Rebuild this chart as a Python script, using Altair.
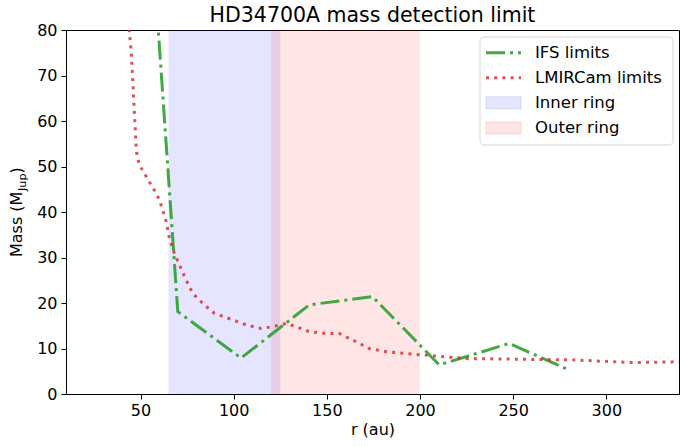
import altair as alt
import pandas as pd

FONT = "DejaVu Sans"

# IFS detection limits (r in au, mass in M_Jup)
ifs_r = [35.0, 70.0, 104.0, 140.6, 174.5, 210.3, 247.8, 280.0]
ifs_m = [225.0, 18.1, 7.9, 19.6, 21.4, 6.4, 11.1, 5.3]

# LMIRCam detection limits
lmir_r = [43.5, 45.0, 45.9, 46.8, 47.7, 48.2, 49.5, 53.9, 58.4, 60.2, 63.8, 65.5,
          68.2, 73.6, 78.0, 83.4, 89.7, 99.5, 106.6, 114.7, 120.9, 128.1, 133.4,
          140.6, 149.5, 156.7, 165.6, 172.7, 181.7, 192.4, 206.7, 224.6, 260.3,
          281.7, 313.9, 340.0]
lmir_m = [82.0, 75.2, 68.3, 61.0, 54.0, 52.2, 50.3, 47.2, 44.1, 42.6, 37.9, 34.2,
          30.9, 25.8, 22.1, 19.9, 17.7, 16.3, 15.2, 14.4, 14.8, 15.5, 14.8,
          13.7, 13.3, 13.3, 11.5, 10.0, 9.3, 8.9, 8.4, 7.8, 7.6,
          7.5, 6.9, 7.1]

# Rings
ring_names = ["Inner ring", "Outer ring"]
ring_start = [65.0, 120.0]
ring_end = [125.0, 200.0]
ring_colors = ["#0000ff", "#ff0000"]

x_ticks = [50, 100, 150, 200, 250, 300]
y_ticks = [0, 10, 20, 30, 40, 50, 60, 70, 80]
x_domain = [10, 339]
y_domain = [0, 80]

W, H = 613, 364

ifs_df = pd.DataFrame({"r": ifs_r, "m": ifs_m})
lmir_df = pd.DataFrame({"r": lmir_r, "m": lmir_m})

xs = alt.Scale(domain=x_domain, nice=False, zero=False)
ys = alt.Scale(domain=y_domain, nice=False, zero=False)

x_axis = alt.Axis(values=x_ticks, title="r (au)", grid=False, labelFontSize=16,
                  titleFontSize=16, labelFont=FONT, titleFont=FONT,
                  titleFontWeight="normal", labelColor="black", titleColor="black",
                  tickColor="black", domainColor="black", tickSize=5,
                  labelPadding=3, titlePadding=3, labelFlush=False)
y_axis = alt.Axis(values=y_ticks, title=None, grid=False, labelFontSize=16,
                  labelFont=FONT, labelColor="black", tickColor="black",
                  domainColor="black", tickSize=5, labelPadding=4, labelFlush=False)

bands = []
for name, s, e, c in zip(ring_names, ring_start, ring_end, ring_colors):
    bdf = pd.DataFrame({"name": [name], "start": [s], "end": [e]})
    bands.append(
        alt.Chart(bdf).mark_rect(color=c, opacity=0.1).encode(
            x=alt.X("start:Q", scale=xs, axis=x_axis),
            x2="end:Q",
            y=alt.value(0),
            y2=alt.value(H),
        )
    )

ifs_line = alt.Chart(ifs_df).mark_line(
    color="#2ca02c", strokeWidth=3, strokeDash=[19, 5, 3, 5], clip=True, opacity=0.9
).encode(
    x=alt.X("r:Q", scale=xs, axis=x_axis),
    y=alt.Y("m:Q", scale=ys, axis=y_axis),
)

lmir_line = alt.Chart(lmir_df).mark_line(
    color="#d62728", strokeWidth=3, strokeDash=[3, 5.2], strokeCap="butt",
    clip=True, opacity=0.8
).encode(
    x=alt.X("r:Q", scale=xs, axis=x_axis),
    y=alt.Y("m:Q", scale=ys, axis=y_axis),
)

# Manual legend (decoration)
one = pd.DataFrame({"k": [0]})
legend_labels = ["IFS limits", "LMIRCam limits", "Inner ring", "Outer ring"]
leg_y = [22.7, 47.7, 72.8, 98.0]
leg_layers = [
    alt.Chart(one).mark_rect(fill="white", opacity=0.8, stroke="#cccccc",
                             strokeWidth=1, cornerRadius=4).encode(
        x=alt.value(414), x2=alt.value(607), y=alt.value(7), y2=alt.value(115))
]
leg_layers.append(alt.Chart(one).mark_rule(
    color="#2ca02c", strokeWidth=3, strokeDash=[19, 5, 3, 5], opacity=0.9).encode(
    x=alt.value(420), x2=alt.value(455), y=alt.value(leg_y[0])))
leg_layers.append(alt.Chart(one).mark_rule(
    color="#d62728", strokeWidth=3, strokeDash=[3, 5.2], strokeCap="butt", opacity=0.8).encode(
    x=alt.value(420), x2=alt.value(455), y=alt.value(leg_y[1])))
for yy, c in zip(leg_y[2:], ring_colors):
    leg_layers.append(alt.Chart(one).mark_rect(color=c, opacity=0.1).encode(
        x=alt.value(420), x2=alt.value(455), y=alt.value(yy - 6), y2=alt.value(yy + 6)))
    leg_layers.append(alt.Chart(one).mark_rect(fill=None, stroke=c, strokeOpacity=0.12,
                                               strokeWidth=1).encode(
        x=alt.value(420), x2=alt.value(455), y=alt.value(yy - 6), y2=alt.value(yy + 6)))
for lab, yy in zip(legend_labels, leg_y):
    leg_layers.append(alt.Chart(one).mark_text(
        text=lab, align="left", baseline="middle", fontSize=16.5, font=FONT,
        color="black").encode(x=alt.value(469), y=alt.value(yy)))

# Y axis title with subscript
ylab = [
    alt.Chart(one).mark_text(text="Mass (M", angle=270, align="left",
                             baseline="alphabetic", fontSize=16, font=FONT,
                             color="black").encode(x=alt.value(-44), y=alt.value(227)),
    alt.Chart(one).mark_text(text="Jup", angle=270, align="left",
                             baseline="alphabetic", fontSize=11.2, font=FONT,
                             color="black").encode(x=alt.value(-40.5), y=alt.value(161)),
    alt.Chart(one).mark_text(text=")", angle=270, align="left",
                             baseline="alphabetic", fontSize=16, font=FONT,
                             color="black").encode(x=alt.value(-44), y=alt.value(143.5)),
]

chart = alt.layer(*bands, ifs_line, lmir_line, *leg_layers, *ylab).properties(
    width=W, height=H,
    title=alt.TitleParams("HD34700A mass detection limit", fontSize=20.5, font=FONT,
                          fontWeight="normal", anchor="middle", offset=6,
                          frame="group", dy=10, color="black"),
    autosize=alt.AutoSizeParams(type="none"),
    padding={"left": 66, "top": 30, "right": 1, "bottom": 52},
).configure_view(stroke="black", strokeWidth=1)

chart.save("out.html", embed_options={"renderer": "svg", "actions": False})
